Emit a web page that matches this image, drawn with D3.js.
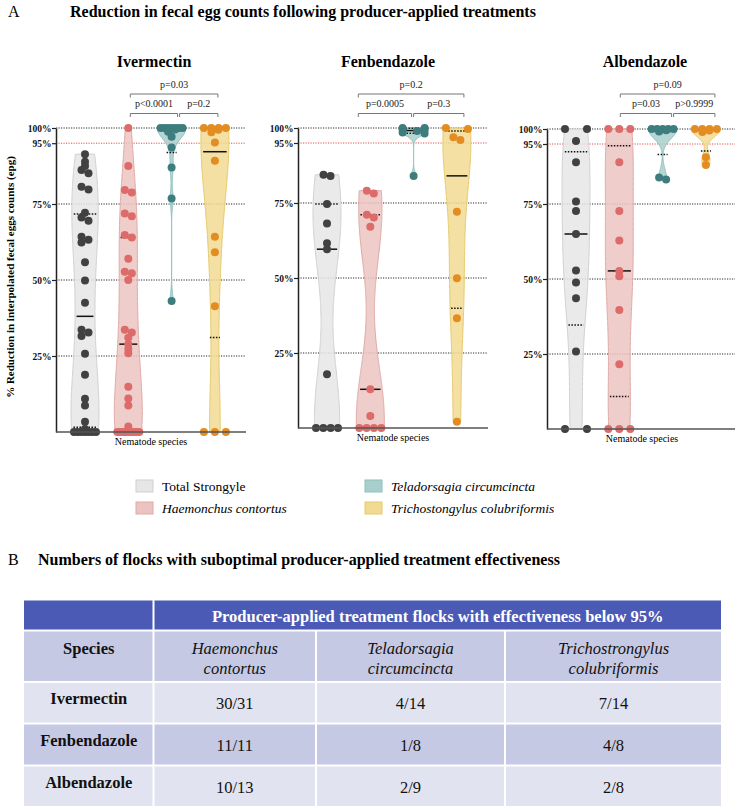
<!DOCTYPE html>
<html><head><meta charset="utf-8">
<script src="https://cdn.jsdelivr.net/npm/d3@7"></script>
<style>body{margin:0;background:#fff}</style>
</head><body><svg id="chart" width="735" height="808"></svg>
<script>
// ---------------- DATA ----------------
const speciesNames = ["Total Strongyle", "Haemonchus contortus", "Teladorsagia circumcincta", "Trichostongylus colubriformis"];
const legendItalic = [false, true, true, true];
const drugs = ["Ivermectin", "Fenbendazole", "Albendazole"];
const yTicks = [100, 95, 75, 50, 25];

const ivermectinTotal = [91.4, 88.9, 87.5, 86.2, 85.1, 80.7, 79.8, 72.1, 70.6, 69.5, 64.2, 63.2, 62.3, 55.8, 49.8, 42.5, 33.6, 32.7, 31.6, 25.7, 18.8, 10.9, 8.7, 3.4, 1.0, 0, 0, 0, 0, 0, 0, 0];
const ivermectinHaemonchus = [100, 87.5, 79.6, 78.8, 71.9, 71.0, 64.8, 64.0, 57.0, 52.7, 52.2, 50.0, 33.6, 32.7, 31.0, 28.9, 27.3, 25.9, 14.9, 11.0, 8.7, 1.8, 0, 0, 0, 0, 0, 0, 0, 0, 0];
const ivermectinTeladorsagia = [100, 100, 100, 100, 100, 100, 100, 99.5, 98.8, 97.1, 93.6, 87.0, 76.8, 43.1];
const ivermectinTrichostrongylus = [100, 100, 100, 100, 99.4, 98.6, 95.2, 89.2, 64.2, 59.1, 41.4, 0, 0, 0];

const fenbendazoleTotal = [84.4, 84.0, 74.7, 68.2, 61.6, 59.6, 17.9, 0, 0, 0, 0];
const fenbendazoleHaemonchus = [79.1, 78.2, 71.1, 70.2, 67.1, 12.9, 4.0, 0, 0, 0, 0];
const fenbendazoleTeladorsagia = [100, 100, 99.6, 99.3, 99.0, 98.5, 98.2, 84.0];
const fenbendazoleTrichostrongylus = [100, 99.7, 96.9, 96.0, 72.1, 49.9, 36.6, 2.1];

const albendazoleTotal = [100, 100, 96.0, 88.9, 75.8, 72.7, 65.0, 52.8, 48.8, 43.6, 25.8, 0, 0];
const albendazoleHaemonchus = [100, 100, 100, 88.9, 72.7, 62.8, 52.7, 50.9, 39.7, 21.6, 0, 0, 0];
const albendazoleTeladorsagia = [100, 100, 100, 100, 100, 99.6, 99.2, 83.8, 83.2];
const albendazoleTrichostrongylus = [100, 100, 100, 100, 99.5, 99.0, 90.6, 88.0];

const ivermectinP = ["p=0.03", "p<0.0001", "p=0.2"];
const fenbendazoleP = ["p=0.2", "p=0.0005", "p=0.3"];
const albendazoleP = ["p=0.09", "p=0.03", "p>0.9999"];

const tableTitle = "Numbers of flocks with suboptimal producer-applied treatment effectiveness";
const tableHeader = "Producer-applied treatment flocks with effectiveness below 95%";
const tableSpeciesLabel = "Species";
const tableSpecies = [["Haemonchus", "contortus"], ["Teladorsagia", "circumcincta"], ["Trichostrongylus", "colubriformis"]];
const tableRowLabels = ["Ivermectin", "Fenbendazole", "Albendazole"];
const tableIvermectin = ["30/31", "4/14", "7/14"];
const tableFenbendazole = ["11/11", "1/8", "4/8"];
const tableAlbendazole = ["10/13", "2/9", "2/8"];

// ---------------- STYLE / LAYOUT ----------------
const FONT = '"Liberation Serif","Times New Roman",Times,serif';
const fills = ["#E6E6E6", "#EBC4C1", "#A9CFCD", "#F1DA92"];
const strokes = ["#D0D0D0", "#DFA9A5", "#8EC0BE", "#E7CA6A"];
const dotColors = ["#414141", "#DC6B6A", "#3E7D7E", "#E38C22"];

const panelData = [
  [ivermectinTotal, ivermectinHaemonchus, ivermectinTeladorsagia, ivermectinTrichostrongylus],
  [fenbendazoleTotal, fenbendazoleHaemonchus, fenbendazoleTeladorsagia, fenbendazoleTrichostrongylus],
  [albendazoleTotal, albendazoleHaemonchus, albendazoleTeladorsagia, albendazoleTrichostrongylus]
];
const panelP = [ivermectinP, fenbendazoleP, albendazoleP];
const layout = [
  {x0: 56, yTop: 128, yBot: 432, titleX: 154, brk: [2, 7, 3]},
  {x0: 298, yTop: 128, yBot: 428, titleX: 388, brk: [-12, -1, 7]},
  {x0: 547, yTop: 129, yBot: 429, titleX: 645, brk: [1, 10, 9]}
];
const PANEL_W = 190, FIRST = 29, STEP = 43.3, MAXW = 14, R = 4;

const svg = d3.select("#chart");
svg.append("rect").attr("width", 735).attr("height", 808).attr("fill", "#fff");

// titles
svg.append("text").attr("x", 8).attr("y", 17).attr("font-family", FONT).attr("font-size", 16).text("A");
svg.append("text").attr("x", 70).attr("y", 17).attr("font-family", FONT).attr("font-size", 16)
  .attr("font-weight", "bold").text("Reduction in fecal egg counts following producer-applied treatments");

// y-axis title
svg.append("text").attr("transform", "translate(14,277) rotate(-90)").attr("text-anchor", "middle")
  .attr("font-family", FONT).attr("font-size", 11).attr("font-weight", "bold")
  .text("% Reduction in interpolated fecal eggs counts (epg)");

function quantile(sorted, p) {
  const n = sorted.length;
  let pos = (n + 1) * p;
  if (pos <= 1) return sorted[0];
  if (pos >= n) return sorted[n - 1];
  const lo = Math.floor(pos), f = pos - lo;
  return sorted[lo - 1] + f * (sorted[lo] - sorted[lo - 1]);
}

function profile(vals) {
  const s = vals.slice().sort(d3.ascending);
  const n = s.length;
  const sd = d3.deviation(s);
  const iqr = quantile(s, 0.75) - quantile(s, 0.25);
  let spread = Math.min(sd, iqr / 1.34);
  if (!(spread > 0)) spread = sd;
  const h = Math.max(1.5, 0.48 * spread);
  const lo = s[0], hi = s[n - 1];
  const steps = 240;
  const pts = d3.range(steps + 1).map(i => {
    const v = lo + (hi - lo) * i / steps;
    let d = 0;
    for (const x of s) { const z = (v - x) / h; d += Math.exp(-0.5 * z * z); }
    return {v, d};
  });
  const dmax = d3.max(pts, p => p.d);
  pts.forEach(p => p.w = MAXW * p.d / dmax);
  return {pts, s, lo, hi};
}
function widthAt(prof, v) {
  const p = prof.pts;
  if (v <= p[0].v) return p[0].w;
  if (v >= p[p.length - 1].v) return p[p.length - 1].w;
  for (let i = 1; i < p.length; i++) {
    if (p[i].v >= v) {
      const t = (v - p[i - 1].v) / (p[i].v - p[i - 1].v || 1);
      return p[i - 1].w + t * (p[i].w - p[i - 1].w);
    }
  }
  return 0;
}

function placePoints(vals, cx, y) {
  const sorted = vals.slice().sort((a, b) => b - a);
  const groups = [];
  sorted.forEach(v => {
    const g = groups[groups.length - 1];
    if (g && Math.abs(y(g[0]) - y(v)) < 1) g.push(v); else groups.push([v]);
  });
  const out = [];
  let prevY = null, flip = -1;
  groups.forEach(g => {
    const k = g.length, py = y(g[0]);
    if (k === 1) {
      let dx = 0;
      if (prevY !== null && Math.abs(py - prevY) < 3.5) {
        dx = 3.5 * flip; flip = -flip;
        if (out.length && out[out.length - 1].single && out[out.length - 1].dx === 0) {
          out[out.length - 1].dx = -dx; out[out.length - 1].x = cx - dx;
        }
      } else flip = 1;
      out.push({v: g[0], x: cx + dx, y: py, dx, single: true});
    } else {
      const stepX = 22 / (k - 1);
      g.forEach((v, i) => out.push({v, x: cx + (i - (k - 1) / 2) * stepX, y: y(v), dx: 99, single: false}));
      flip = 1;
    }
    prevY = py;
  });
  return out;
}

layout.forEach((L, pi) => {
  const g = svg.append("g");
  const y = d3.scaleLinear().domain([0, 100]).range([L.yBot, L.yTop]);
  const x = d3.scalePoint().domain(speciesNames).range([L.x0 + FIRST, L.x0 + FIRST + 3 * STEP]);
  const xEnd = L.x0 + PANEL_W;

  g.append("text").attr("x", L.titleX).attr("y", 67).attr("text-anchor", "middle")
    .attr("font-family", FONT).attr("font-size", 16).attr("font-weight", "bold").text(drugs[pi]);

  yTicks.forEach(t => {
    g.append("line").attr("x1", L.x0).attr("x2", xEnd).attr("y1", y(t)).attr("y2", y(t))
      .attr("stroke", t === 95 ? "#E0504A" : "#2a2a2a").attr("stroke-width", 1)
      .attr("stroke-dasharray", "1.2,1.3");
  });

  panelData[pi].forEach((vals, si) => {
    const cx = x(speciesNames[si]);
    const prof = profile(vals);
    const area = d3.area().y(d => y(d.v)).x0(d => cx - d.w).x1(d => cx + d.w).curve(d3.curveLinear);
    g.append("path").attr("d", area(prof.pts)).attr("fill", fills[si]).attr("fill-opacity", 0.85)
      .attr("stroke", strokes[si]).attr("stroke-width", 1);
    [[0.25, true], [0.5, false], [0.75, true]].forEach(([p, dotted]) => {
      const q = quantile(prof.s, p);
      const hw = Math.max(5, 0.85 * widthAt(prof, q));
      g.append("line").attr("x1", cx - hw).attr("x2", cx + hw).attr("y1", y(q)).attr("y2", y(q))
        .attr("stroke", "#111").attr("stroke-width", 1.5)
        .attr("stroke-dasharray", dotted ? "1.5,1.5" : null);
    });
  });

  panelData[pi].forEach((vals, si) => {
    const cx = x(speciesNames[si]);
    g.selectAll(null).data(placePoints(vals, cx, y)).enter().append("circle")
      .attr("cx", d => d.x).attr("cy", d => d.y).attr("r", R).attr("fill", dotColors[si]);
  });

  const ax = g.append("g").attr("transform", `translate(${L.x0},0)`)
    .call(d3.axisLeft(y).tickValues(yTicks).tickFormat(d => d + "%").tickSize(4).tickSizeOuter(0));
  ax.select(".domain").attr("stroke", "#222").attr("stroke-width", 1.5);
  ax.selectAll(".tick line").attr("stroke", "#222").attr("stroke-width", 1.2);
  ax.selectAll(".tick text").attr("font-family", FONT).attr("font-size", 9.5).attr("font-weight", "bold")
    .attr("fill", "#111").attr("x", -4.5);
  g.append("line").attr("x1", L.x0).attr("x2", xEnd).attr("y1", L.yBot).attr("y2", L.yBot)
    .attr("stroke", "#555").attr("stroke-width", 1.5);
  g.append("text").attr("x", L.x0 + PANEL_W / 2).attr("y", L.yBot + 12.5).attr("text-anchor", "middle")
    .attr("font-family", FONT).attr("font-size", 10).text("Nematode species");

  const bx = [x(speciesNames[1]) + L.brk[0], x(speciesNames[2]) + L.brk[1], x(speciesNames[3]) + L.brk[2]];
  const bracket = (xa, xb, yy, label, ty) => {
    g.append("path").attr("d", `M${xa},${yy + 3.5}V${yy}H${xb}V${yy + 3.5}`)
      .attr("fill", "none").attr("stroke", "#777").attr("stroke-width", 1);
    g.append("text").attr("x", (xa + xb) / 2).attr("y", ty).attr("text-anchor", "middle")
      .attr("font-family", FONT).attr("font-size", 10).attr("fill", "#222").text(label);
  };
  bracket(bx[0], bx[2], 94, panelP[pi][0], 87.5);
  bracket(bx[0], bx[1] - 1, 113.5, panelP[pi][1], 107);
  bracket(bx[1] + 1, bx[2], 113.5, panelP[pi][2], 107);
});

// legend
const legPos = [[136, 480], [136, 502], [365, 480], [365, 502]];
speciesNames.forEach((name, i) => {
  const [lx, ly] = legPos[i];
  svg.append("rect").attr("x", lx).attr("y", ly).attr("width", 17).attr("height", 12)
    .attr("fill", fills[i]).attr("stroke", strokes[i]).attr("stroke-width", 1);
  svg.append("text").attr("x", lx + 26).attr("y", ly + 10.5).attr("font-family", FONT).attr("font-size", 13.5)
    .attr("font-style", legendItalic[i] ? "italic" : "normal").text(name);
});

// ---------------- TABLE ----------------
svg.append("text").attr("x", 8).attr("y", 565).attr("font-family", FONT).attr("font-size", 16).text("B");
svg.append("text").attr("x", 38).attr("y", 565).attr("font-family", FONT).attr("font-size", 16)
  .attr("font-weight", "bold").text(tableTitle);

const colX = [24, 153.5, 316, 505, 722];
const rowY = [600.5, 630.5, 682, 723.5, 765.5, 807];
const rowFill = ["#4A5AB5", "#C6C9E4", "#E2E3F0", "#C6C9E4", "#E2E3F0"];
const tg = svg.append("g");
for (let r = 0; r < 5; r++) {
  const cols = r === 0 ? [[0, 1], [1, 4]] : [[0, 1], [1, 2], [2, 3], [3, 4]];
  cols.forEach(([a, b]) => {
    tg.append("rect").attr("x", colX[a] + (a === 0 ? 0 : 1)).attr("y", rowY[r] + (r === 0 ? 0 : 1))
      .attr("width", colX[b] - colX[a] - (a === 0 ? 1 : 2)).attr("height", rowY[r + 1] - rowY[r] - (r === 0 ? 1 : 2))
      .attr("fill", rowFill[r]);
  });
}
const colC = [0, 1, 2, 3].map(i => (colX[i] + colX[i + 1]) / 2);
tg.append("text").attr("x", (colX[1] + colX[4]) / 2).attr("y", 621.5).attr("text-anchor", "middle")
  .attr("font-family", FONT).attr("font-size", 16.5).attr("font-weight", "bold").attr("fill", "#fff").text(tableHeader);
tg.append("text").attr("x", colC[0]).attr("y", 653.5).attr("text-anchor", "middle")
  .attr("font-family", FONT).attr("font-size", 16.5).attr("font-weight", "bold").attr("fill", "#111").text(tableSpeciesLabel);
tableSpecies.forEach((lines, i) => {
  lines.forEach((ln, j) => {
    tg.append("text").attr("x", colC[i + 1]).attr("y", 653.5 + j * 20).attr("text-anchor", "middle")
      .attr("font-family", FONT).attr("font-size", 16.5).attr("font-style", "italic").attr("fill", "#111").text(ln);
  });
});
const tableValues = [tableIvermectin, tableFenbendazole, tableAlbendazole];
const labelBase = [703.5, 746, 788];
tableRowLabels.forEach((lab, r) => {
  tg.append("text").attr("x", colC[0]).attr("y", labelBase[r]).attr("text-anchor", "middle")
    .attr("font-family", FONT).attr("font-size", 16.5).attr("font-weight", "bold").attr("fill", "#111").text(lab);
  tableValues[r].forEach((v, c) => {
    tg.append("text").attr("x", colC[c + 1]).attr("y", labelBase[r] + 5).attr("text-anchor", "middle")
      .attr("font-family", FONT).attr("font-size", 16.5).attr("fill", "#111").text(v);
  });
});
</script></body></html>
